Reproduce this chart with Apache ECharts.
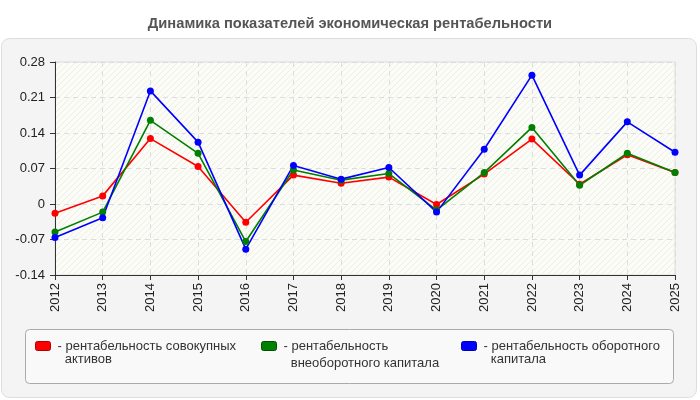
<!DOCTYPE html>
<html><head><meta charset="utf-8">
<script src="https://cdn.jsdelivr.net/npm/echarts@6/dist/echarts.min.js"></script>
<style>html,body{margin:0;padding:0;background:#fff}#c{width:700px;height:400px}</style>
</head><body><div id="c"></div>
<script>
var years = ['2012','2013','2014','2015','2016','2017','2018','2019','2020','2021','2022','2023','2024','2025'];
var assetsROA = [-0.018,0.016,0.129,0.074,-0.036,0.057,0.041,0.053,-0.001,0.059,0.128,0.039,0.097,0.062];
var nonCurrentROA = [-0.055,-0.016,0.165,0.100,-0.074,0.067,0.047,0.060,-0.012,0.062,0.151,0.037,0.100,0.062];
var currentROA = [-0.066,-0.027,0.223,0.122,-0.089,0.076,0.049,0.072,-0.016,0.108,0.254,0.057,0.162,0.102];
var seriesNames = ['рентабельность совокупных активов','рентабельность внеоборотного капитала','рентабельность оборотного капитала'];
var legendTexts = ['- рентабельность совокупных\n  активов','- рентабельность\n  внеоборотного капитала','- рентабельность оборотного\n  капитала'];
var colors = ['#ff0000','#008000','#0000ff'];
var borders = ['#b00000','#005000','#0000b0'];

var cv = document.createElement('canvas');
cv.width = 6; cv.height = 6;
var g = cv.getContext('2d');
g.fillStyle = '#fcfcf6'; g.fillRect(0,0,6,6);
g.strokeStyle = '#eeeeea'; g.lineWidth = 1;
g.beginPath(); g.moveTo(0,6); g.lineTo(6,0); g.moveTo(-3,3); g.lineTo(3,-3); g.moveTo(3,9); g.lineTo(9,3); g.stroke();

// legend icon: rounded rect drawn at the top of a box as tall as the two-line text
function topIcon(lineH) {
  var h = lineH * 2, t = Math.round(lineH / 2 - 4.5), b = t + 9;
  return 'path://M2,' + t + ' L13,' + t + ' Q15,' + t + ' 15,' + (t + 2) + ' L15,' + (b - 2) + ' Q15,' + b + ' 13,' + b +
    ' L2,' + b + ' Q0,' + b + ' 0,' + (b - 2) + ' L0,' + (t + 2) + ' Q0,' + t + ' 2,' + t + ' Z M0,0 L0.001,0 M0,' + h + ' L0.001,' + h;
}

var FF = 'Liberation Sans, Arial, sans-serif';
var chart = echarts.init(document.getElementById('c'));
var dataSets = [assetsROA, nonCurrentROA, currentROA];
var legendLefts = [35, 261, 461];
var legendTops = [339, 337, 339];
var legendLineH = [13, 17, 13];
chart.setOption({
  animation: false,
  title: { text: 'Динамика показателей экономическая рентабельности', left: 'center', top: 11,
    textStyle: { fontSize: 14.7, fontWeight: 'bold', color: '#555', fontFamily: FF } },
  graphic: [
    { type: 'rect', z: -10, silent: true, shape: { x: 1.5, y: 38.5, width: 695, height: 359, r: 8 },
      style: { fill: '#f4f4f4', stroke: '#dddddd', lineWidth: 1 } },
    { type: 'rect', z: -9, silent: true, shape: { x: 25.5, y: 329.5, width: 648, height: 54, r: 4 },
      style: { fill: '#f9f9f9', stroke: '#aaaaaa', lineWidth: 1 } }
  ],
  grid: { left: 55, right: 25, top: 62, bottom: 125, show: true, borderColor: '#dddddd', borderWidth: 1,
    backgroundColor: { image: cv, repeat: 'repeat' } },
  xAxis: { type: 'category', data: years, boundaryGap: false,
    axisLine: { onZero: false, lineStyle: { color: '#333', width: 1 } },
    axisTick: { show: true, length: 5, lineStyle: { color: '#333' } },
    axisLabel: { rotate: 90, color: '#222', fontSize: 13, margin: 8, fontFamily: FF },
    splitLine: { show: true, lineStyle: { color: '#dddddd', type: [5, 4] } } },
  yAxis: { type: 'value', min: -0.14, max: 0.28, interval: 0.07,
    axisLine: { show: true, lineStyle: { color: '#333', width: 1 } },
    axisTick: { show: true, length: 5, lineStyle: { color: '#333' } },
    axisLabel: { color: '#222', fontSize: 13, margin: 10, fontFamily: FF,
      formatter: function (v) { return Math.abs(v) < 1e-9 ? '0' : String(+v.toFixed(2)); } },
    splitLine: { show: true, lineStyle: { color: '#dddddd', type: [5, 4] } } },
  legend: [0,1,2].map(function (i) {
    return { data: [seriesNames[i]], left: legendLefts[i], top: legendTops[i], padding: 0, orient: 'horizontal',
      icon: topIcon(legendLineH[i]), itemWidth: 15, itemHeight: legendLineH[i] * 2, itemGap: 4,
      itemStyle: { borderColor: borders[i], borderWidth: 1 },
      textStyle: { fontSize: 13, color: '#333', lineHeight: legendLineH[i], fontFamily: FF, padding: [0, 0, 0, 2] },
      formatter: function () { return legendTexts[i]; } };
  }),
  series: [0,1,2].map(function (i) {
    return { name: seriesNames[i], type: 'line', data: dataSets[i], symbol: 'circle', symbolSize: 7,
      lineStyle: { color: colors[i], width: 1.6 }, itemStyle: { color: colors[i] } };
  })
});
</script></body></html>
